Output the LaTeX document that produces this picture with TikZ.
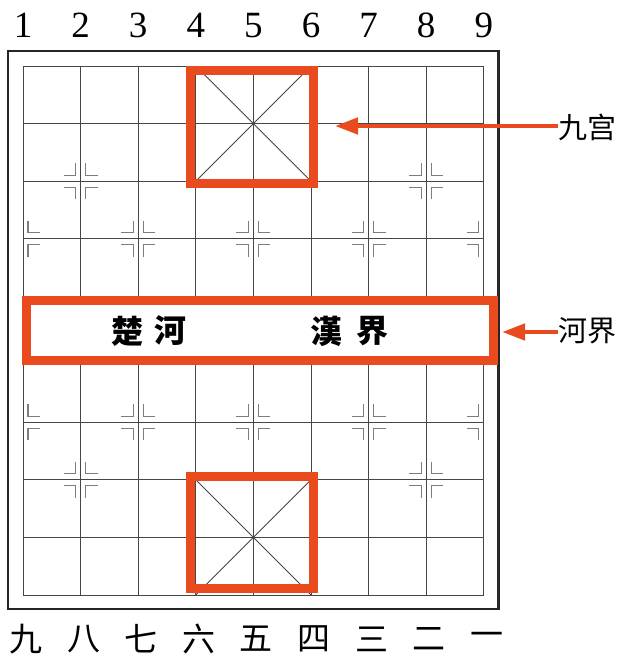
\documentclass[tikz,border=0pt]{standalone}
\usepackage{fontspec}
\usetikzlibrary{arrows.meta}
\setmainfont{Liberation Serif}
\newfontfamily\cjksans{Noto Sans CJK SC}
\newfontfamily\cjktc{Noto Sans CJK TC}
\definecolor{boardred}{RGB}{233,75,30}
\definecolor{gridc}{RGB}{70,70,70}
\definecolor{markc}{RGB}{125,125,125}
\tikzset{
  gridline/.style={draw=gridc,line width=0.9pt},
  markline/.style={draw=markc,line width=1.3pt},
  redbox/.style={draw=boardred,line width=9pt},
  redarrow/.style={draw=boardred,line width=4.5pt,-{Triangle[length=23pt,width=16pt]}},
  topnum/.style={font=\fontsize{37}{37}\selectfont,anchor=base,inner sep=0pt},
  botnum/.style={font=\cjksans\fontsize{33}{33}\selectfont,inner sep=0pt},
  rivertext/.style={font=\cjktc\bfseries\fontsize{32}{32}\selectfont,inner sep=0pt},
  sidelabel/.style={font=\cjksans\fontsize{29}{29}\selectfont,anchor=west,inner sep=0pt},
  mkR/.pic={\draw[markline] (5,-18) -- (5,-6) -- (17,-6);
            \draw[markline] (5,18) -- (5,6) -- (17,6);},
  mkL/.pic={\draw[markline] (-5,-18) -- (-5,-6) -- (-17,-6);
            \draw[markline] (-5,18) -- (-5,6) -- (-17,6);},
}
\begin{document}
\begin{tikzpicture}[x=1pt,y=-1pt]
\useasboundingbox[fill=white] (0,0) rectangle (620,658);
% grid
\foreach \i in {0,...,8}{
  \draw[gridline] ({23+57.6*\i},66) -- ({23+57.6*\i},296.4);
  \draw[gridline] ({23+57.6*\i},364.6) -- ({23+57.6*\i},595);
}
\foreach \j in {0,...,4}{
  \draw[gridline] (23,{66+57.6*\j}) -- (483.8,{66+57.6*\j});
  \draw[gridline] (23,{595-57.6*\j}) -- (483.8,{595-57.6*\j});
}
% palace diagonals
\draw[gridline] (195.8,66) -- (311,181.2);
\draw[gridline] (311,66) -- (195.8,181.2);
\draw[gridline] (195.8,479.8) -- (311,595);
\draw[gridline] (311,479.8) -- (195.8,595);
\fill[gridc] (253.4,123.6) circle (1.2);
\fill[gridc] (253.4,537.4) circle (1.2);
% markers: cannons
\foreach \x in {80.6,426.2}{
  \foreach \y in {181.2,479.8}{
    \pic at (\x,\y) {mkL}; \pic at (\x,\y) {mkR};
  }
}
% markers: soldiers
\foreach \y in {238.8,422.2}{
  \pic at (23,\y) {mkR};
  \foreach \x in {138.2,253.4,368.6}{\pic at (\x,\y) {mkL}; \pic at (\x,\y) {mkR};}
  \pic at (483.8,\y) {mkL};
}
% outer border
\draw[line width=2.5pt,black!85] (8,51) rectangle (498.5,609);
% red boxes
\draw[redbox,fill=white] (26.5,300.5) rectangle (493.5,360.5);
\draw[redbox] (190.8,70.5) rectangle (313,183.5);
\draw[redbox] (190.8,476.5) rectangle (313,588.5);
% river text
\node[rivertext] (chu) at (127,331) {楚};
\node[rivertext] (he) at (170,331) {河};
\node[rivertext] (han) at (326,331) {漢};
\node[rivertext] (jie) at (372,331) {界};
% numbers
\foreach \d [count=\i from 0] in {1,...,9}{
  \node[topnum] (t\d) at ({23+57.6*\i},38) {\d};
}
\foreach \c [count=\i from 0] in {九,八,七,六,五,四,三,二,一}{
  \node[botnum] (b\i) at ({23+57.6*\i+3},639) {\c};
}
% side labels and arrows
\node[sidelabel] (jiugong) at (558,127) {九宫};
\node[sidelabel] (hejie) at (558,331) {河界};
\coordinate (jgtip) at (335,126);
\coordinate (hjtip) at (502,332);
\draw[redarrow] (jiugong.west |- jgtip) -- (jgtip);
\draw[redarrow] (hejie.west |- hjtip) -- (hjtip);
\end{tikzpicture}
\end{document}
